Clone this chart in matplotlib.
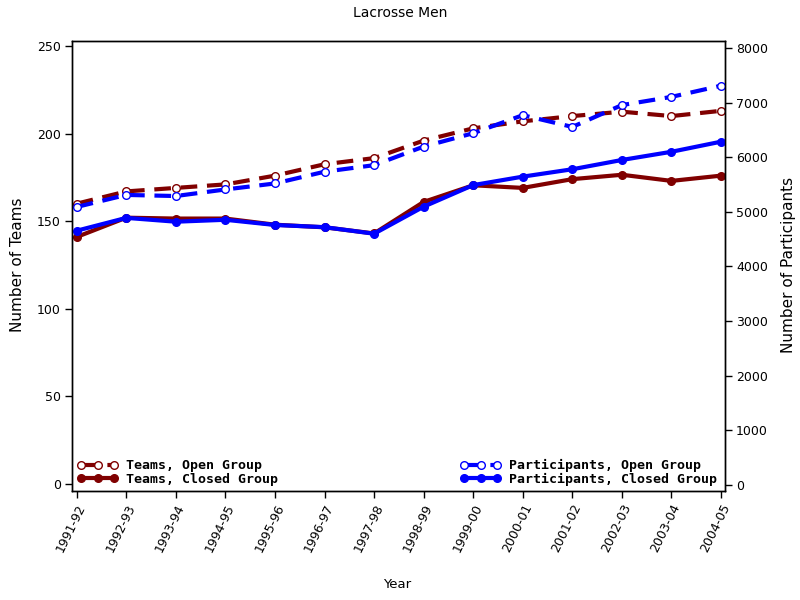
import matplotlib
matplotlib.use("Agg")
import matplotlib.pyplot as plt

years = ["1991-92", "1992-93", "1993-94", "1994-95", "1995-96", "1996-97", "1997-98",
         "1998-99", "1999-00", "2000-01", "2001-02", "2002-03", "2003-04", "2004-05"]
teams_open = [160, 167, 169, 171, 176, 182.5, 186, 196, 203, 207, 210, 212.5, 210, 213]
teams_closed = [141, 152, 151.5, 151.5, 148, 146.5, 143, 161, 170.5, 169, 174, 176.5, 173, 176]
part_open = [5090, 5310, 5290, 5410, 5520, 5735, 5855, 6195, 6440, 6770, 6555, 6955, 7105, 7310]
part_closed = [4655, 4890, 4820, 4855, 4760, 4720, 4600, 5095, 5490, 5645, 5780, 5950, 6100, 6285]

plt.rcParams['lines.scale_dashes'] = False
RED = "#800000"
BLUE = "#0000FF"

fig = plt.figure(figsize=(8, 6), dpi=100)
ax = fig.add_axes([72/800, 1-491/600, (725-72)/800, (491-41)/600])
ax2 = ax.twinx()

x = list(range(len(years)))
lw = 3.0
ms = 5.5
l1, = ax2.plot([], [])  # placeholder removed below
l1.remove()

h1, = ax.plot(x, teams_open, color=RED, lw=lw, dashes=(12, 7), marker='o', ms=ms,
              mfc='white', mec=RED, mew=1.0, label="Teams, Open Group")
h2, = ax.plot(x, teams_closed, color=RED, lw=lw, marker='o', ms=ms,
              mfc=RED, mec=RED, label="Teams, Closed Group")
h3, = ax2.plot(x, part_open, color=BLUE, lw=lw, dashes=(12, 7), marker='o', ms=ms,
               mfc='white', mec=BLUE, mew=1.0, label="Participants, Open Group")
h4, = ax2.plot(x, part_closed, color=BLUE, lw=lw, marker='o', ms=ms,
               mfc=BLUE, mec=BLUE, label="Participants, Closed Group")

ax.set_xlim(-0.095, 13.08)
ax.set_ylim(-4, 252.85)
ax2.set_ylim(-110, 8128)
ax.set_yticks([0, 50, 100, 150, 200, 250])
ax2.set_yticks(range(0, 8001, 1000))
ax.set_xticks(x)
ax.set_xticklabels(years, rotation=64, ha='right', va='top', rotation_mode='anchor', fontsize=8.5)

for a in (ax, ax2):
    a.tick_params(direction='out', length=5, width=1, labelsize=9, pad=3)
    for s in a.spines.values():
        s.set_linewidth(1)

fig.text(0.5, 1-13/600, "Lacrosse Men", ha='center', va='center', fontsize=10)
fig.text(18/800, 1-265/600, "Number of Teams", rotation=90, ha='center', va='center', fontsize=11)
fig.text(789/800, 1-265/600, "Number of Participants", rotation=90, ha='center', va='center', fontsize=11)
fig.text(397/800, 1-585/600, "Year", ha='center', va='center', fontsize=9.5)

legfont = {'family': 'DejaVu Sans Mono', 'weight': 'bold', 'size': 9.5}
leg1 = ax2.legend(handles=[h1, h2], loc='lower left', bbox_to_anchor=(0.004, 0.005),
                  frameon=False, prop=legfont, numpoints=3, handlelength=3.1,
                  handletextpad=0.6, labelspacing=0.05, borderaxespad=0, borderpad=0.2)
ax2.add_artist(leg1)
leg2 = ax2.legend(handles=[h3, h4], loc='lower right', bbox_to_anchor=(0.992, 0.005),
                  frameon=False, prop=legfont, numpoints=3, handlelength=3.1,
                  handletextpad=0.6, labelspacing=0.05, borderaxespad=0, borderpad=0.2)

fig.savefig("out.png", dpi=100)
